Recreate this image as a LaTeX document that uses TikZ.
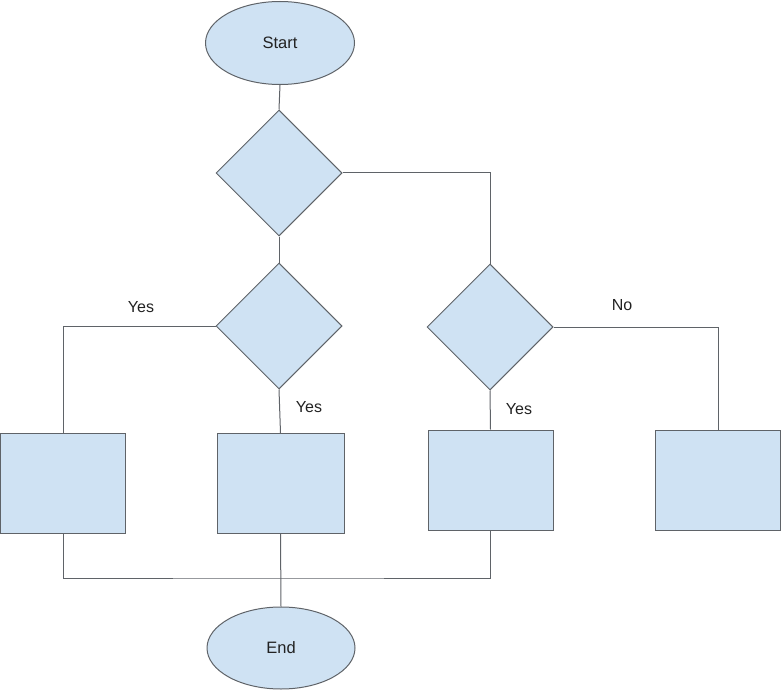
\documentclass[tikz,border=0pt]{standalone}
\usepackage{fontspec}
\setmainfont{Liberation Sans}
\usetikzlibrary{shapes.geometric}
\definecolor{boxfill}{HTML}{CFE2F3}
\definecolor{linegray}{HTML}{5F6368}
\definecolor{txt}{HTML}{222222}
\tikzset{
  base/.style={draw=linegray, line width=1pt, fill=boxfill, inner sep=0pt, text=txt, font=\fontsize{16.5}{19}\selectfont},
  term/.style={base, ellipse, minimum width=149pt, minimum height=83pt},
  decision/.style={base, diamond, minimum width=126pt, minimum height=126pt},
  proc/.style={base, rectangle, minimum width=125pt, minimum height=100pt},
  conn/.style={draw=linegray, line width=1pt},
  lbl/.style={text=txt, font=\fontsize{16}{19}\selectfont, inner sep=0pt}
}
\begin{document}
\begin{tikzpicture}[x=1pt,y=-1pt]
\useasboundingbox (0,0) rectangle (782,690);
\node[term] (start) at (280,43) {Start};
\node[decision] (d1) at (279,173) {};
\node[decision] (d2) at (279,326) {};
\node[decision] (d3) at (490,327) {};
\node[proc] (b1) at (63,483.5) {};
\node[proc, minimum width=127pt] (b2) at (280.5,483.5) {};
\node[proc] (b3) at (490.5,480) {};
\node[proc] (b4) at (718,480) {};
\node[term, minimum width=148pt, minimum height=82pt] (end) at (281,648) {End};
\coordinate (j) at (280,578);

\draw[conn] (start.south) -- (d1.north);
\draw[conn] (d1.south) -- (d2.north);
\draw[conn] (d1.east) -| (d3.north);
\draw[conn] (d2.west) -| (b1.north);
\draw[conn] (d2.south) -- (b2.north);
\draw[conn] (d3.south) -- (b3.north);
\draw[conn] (d3.east) -| (b4.north);
\draw[conn] (b1.south) |- (j) -| (b3.south);
\draw[conn] (b2.south) -- (end.north);

\node[lbl] (l1) at (141,307) {Yes};
\node[lbl] (l2) at (309,407) {Yes};
\node[lbl] (l3) at (519,409) {Yes};
\node[lbl] (l4) at (622,305) {No};
\end{tikzpicture}
\end{document}
